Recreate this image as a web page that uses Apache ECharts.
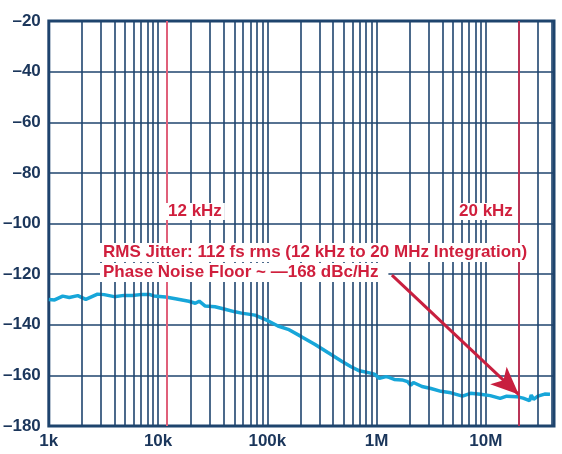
<!DOCTYPE html>
<html>
<head>
<meta charset="utf-8">
<script src="https://cdn.jsdelivr.net/npm/echarts@6/dist/echarts.min.js"></script>
<style>
  html, body { margin: 0; padding: 0; background: #fff; }
  #chart { width: 562px; height: 454px; }
</style>
</head>
<body>
<div id="chart"></div>
<script>
// phase noise curve (Hz, dBc/Hz)
var freq = [1000, 1130, 1340, 1540, 1840, 2180, 2790, 3210, 3960, 4890, 5820, 7180, 8270, 9160,
    11700, 14400, 19100, 21900, 23800, 27000, 33200, 41000, 50500, 58000, 77000, 101000, 125000,
    155000, 205000, 271000, 358000, 475000, 583000, 696000, 858000, 954000, 1060000, 1220000,
    1300000, 1450000, 1710000, 1920000, 2050000, 2170000, 2600000, 3140000, 3880000, 4780000,
    6100000, 7240000, 8900000, 10950000, 13500000, 15500000, 19100000, 21900000, 25100000,
    26000000, 27300000, 29900000, 34500000, 38600000];
var noise = [-130.0, -130.2, -128.7, -129.2, -128.5, -130.0, -127.9, -128.1, -128.9, -128.4, -128.4,
    -128.0, -128.0, -128.6, -129.0, -129.7, -130.7, -131.5, -130.7, -132.6, -132.9, -133.9, -134.9,
    -135.4, -136.2, -138.4, -140.5, -141.8, -144.7, -147.7, -151.0, -154.3, -156.6, -158.2, -159.0,
    -159.5, -161.2, -160.5, -160.8, -161.6, -161.8, -162.5, -163.9, -162.8, -164.4, -165.2, -166.3,
    -166.9, -168.2, -167.1, -167.5, -168.0, -169.1, -168.2, -168.4, -169.0, -170.0, -167.8, -169.5,
    -168.2, -167.4, -167.5];

var xMin = 1000, xMax = 42000000;
var yMin = -180, yMax = -20, yStep = 20;
var xTickLabels = {1000: '1k', 10000: '10k', 100000: '100k', 1000000: '1M', 10000000: '10M'};

// minor vertical grid lines (2..9 of each decade)
var minorGrid = [];
[1000, 10000, 100000, 1000000, 10000000].forEach(function (d) {
    for (var m = 2; m <= 9; m++) {
        if (d * m < xMax) minorGrid.push(d * m);
    }
});

var bandEdges = [12000, 20000000];
var arrowFrom = [1380000, -120.4];
var arrowTo = [20000000, -167.6];

var navy = '#1f446e';
var labelNavy = '#1b365b';
var red = '#d01f3d';
var font = 'Liberation Sans';
var textFont = 'bold 17px "Liberation Sans"';

var chart = echarts.init(document.getElementById('chart'));
chart.setOption({
    backgroundColor: '#fff',
    animation: false,
    grid: {
        left: 46, right: 8, top: 21, bottom: 28,
        show: true, borderColor: navy, borderWidth: 3
    },
    xAxis: {
        type: 'log',
        logBase: 10,
        min: xMin,
        max: xMax,
        axisLine: { show: false },
        axisTick: { show: false },
        splitLine: { show: true, lineStyle: { color: navy, width: 1.6 } },
        axisLabel: {
            margin: 7,
            color: labelNavy,
            fontFamily: font,
            fontWeight: 'bold',
            fontSize: 17,
            formatter: function (v) { return xTickLabels[Math.round(v)] || ''; }
        }
    },
    yAxis: {
        type: 'value',
        min: yMin,
        max: yMax,
        interval: yStep,
        axisLine: { show: false },
        axisTick: { show: false },
        splitLine: { show: true, lineStyle: { color: navy, width: 1.6 } },
        axisLabel: {
            margin: 8,
            color: labelNavy,
            fontFamily: font,
            fontWeight: 'bold',
            fontSize: 17,
            formatter: function (v) { return String(v).replace('-', '\u2013'); }
        }
    },
    series: [
        {
            type: 'line',
            data: [],
            silent: true,
            z: 1,
            markLine: {
                silent: true,
                symbol: 'none',
                label: { show: false },
                lineStyle: { color: navy, width: 1.6, type: 'solid' },
                data: minorGrid.map(function (v) { return { xAxis: v }; })
            }
        },
        {
            type: 'line',
            data: [],
            silent: true,
            z: 2,
            markLine: {
                silent: true,
                symbol: 'none',
                label: { show: false },
                data: [
                    { xAxis: bandEdges[0], lineStyle: { color: '#e0607a', width: 2, type: 'solid' } },
                    { xAxis: bandEdges[1], lineStyle: { color: '#d6284a', width: 1.6, type: 'solid' } }
                ]
            }
        },
        {
            type: 'line',
            data: freq.map(function (f, i) { return [f, noise[i]]; }),
            showSymbol: false,
            smooth: false,
            z: 3,
            lineStyle: { color: '#17a6d9', width: 3.5 }
        },
        {
            type: 'line',
            data: [],
            silent: true,
            z: 4,
            markLine: {
                silent: true,
                symbol: ['none', 'arrow'],
                symbolSize: [18, 28],
                label: { show: false },
                lineStyle: { color: '#c81f3f', width: 3, type: 'solid' },
                data: [[{ coord: arrowFrom }, { coord: arrowTo }]]
            }
        }
    ],
    graphic: [
        {
            type: 'text', left: 165, top: 203, z: 100,
            style: {
                text: '12 kHz', fill: red, font: textFont,
                backgroundColor: '#fff', padding: [0, 3]
            }
        },
        {
            type: 'text', left: 456, top: 203, z: 100,
            style: {
                text: '20 kHz', fill: red, font: textFont,
                backgroundColor: '#fff', padding: [0, 3]
            }
        },
        {
            type: 'text', left: 100, top: 243, z: 100,
            style: {
                text: 'RMS Jitter: 112 fs rms (12 kHz to 20 MHz Integration)',
                fill: red, font: textFont,
                backgroundColor: '#fff', padding: [1, 3]
            }
        },
        {
            type: 'text', left: 100, top: 263, z: 100,
            style: {
                text: 'Phase Noise Floor ~ \u2014168 dBc/Hz',
                fill: red, font: textFont,
                backgroundColor: '#fff', padding: [1, 10, 1, 3]
            }
        }
    ]
});
</script>
</body>
</html>
